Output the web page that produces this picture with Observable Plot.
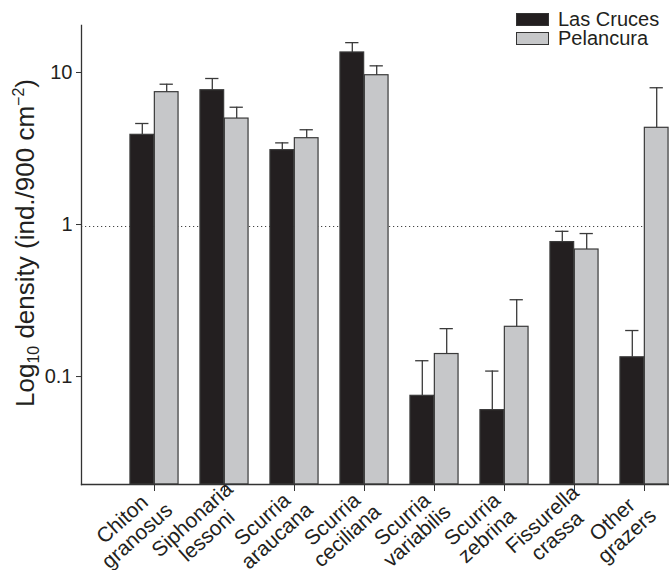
<!DOCTYPE html>
<html>
<head>
<meta charset="utf-8">
<script src="https://cdn.jsdelivr.net/npm/d3@7"></script>
<script src="https://cdn.jsdelivr.net/npm/@observablehq/plot@0.6"></script>
<style>
  html, body { margin: 0; padding: 0; background: #fff; overflow: hidden; }
  #chart { position: relative; width: 669px; height: 570px; font-family: "Liberation Sans", Arial, Helvetica, sans-serif; color: #231f20; }
  #chart svg { overflow: hidden; }
  .legend { position: absolute; left: 516px; top: 9.5px; font-size: 20px; line-height: 19px; }
  .legend .row { display: flex; align-items: flex-start; height: 19px; }
  .legend .sw { box-sizing: border-box; width: 33px; height: 13px; margin-top: 3px; margin-right: 9px; border: 1px solid #333; }
</style>
</head>
<body>
<div id="chart"></div>
<script>
// Grazer densities per species at two sites (mean and mean + SE)
const species = [
  "Chiton\ngranosus",
  "Siphonaria\nlessoni",
  "Scurria\naraucana",
  "Scurria\nceciliana",
  "Scurria\nvariabilis",
  "Scurria\nzebrina",
  "Fissurella\ncrassa",
  "Other\ngrazers"
];
const sites = ["Las Cruces", "Pelancura"];
const siteColors = ["#231f20", "#c6c7c9"];
const lasCruces      = [4.01, 7.88, 3.18, 13.96, 0.077, 0.062, 0.79, 0.138];
const lasCrucesUpper = [4.76, 9.41, 3.55, 16.2, 0.131, 0.112, 0.93, 0.207];
const pelancura      = [7.65, 5.13, 3.81, 9.89, 0.145, 0.219, 0.706, 4.46];
const pelancuraUpper = [8.63, 6.09, 4.33, 11.4, 0.213, 0.330, 0.899, 8.18];
const yTicks = [0.1, 1, 10];
const yDomain = [0.0201, 21];
const yTitle = "Log10 density (ind./900 cm−2)";

const rowsFor = (site, means, uppers) =>
  species.map((s, i) => ({species: s, site, value: means[i], upper: uppers[i]}));
const rowsA = rowsFor(sites[0], lasCruces, lasCrucesUpper);
const rowsB = rowsFor(sites[1], pelancura, pelancuraUpper);

// layout
const W = 669, H = 570;
const mL = 81, mT = 25, mB = 86;
const step = 70.7;          // width of one species group
const barW = 24.4;          // width of one bar
const capW = 14;            // width of an error-bar cap
const half = step / 2;
const ink = "#231f20";
const edge = "#3a3a3a";

const barsFor = (rows, left) => Plot.barY(rows, {
  x: "species", y1: yDomain[0], y2: "value", fill: "site",
  stroke: edge, strokeWidth: 1.2,
  insetLeft: left ? half - barW : half,
  insetRight: left ? half : half - barW
});
const errorsFor = (rows, left) => [
  Plot.ruleX(rows, {x: "species", y1: "value", y2: "upper", stroke: edge, strokeWidth: 1.3, dx: left ? -barW / 2 : barW / 2}),
  Plot.tickY(rows, {x: "species", y: "upper", stroke: edge, strokeWidth: 1.3,
    insetLeft: (step - capW) / 2, insetRight: (step - capW) / 2, dx: left ? -barW / 2 : barW / 2})
];

const chart = Plot.plot({
  width: W, height: H,
  marginTop: mT, marginBottom: mB, marginLeft: mL, marginRight: 0,
  style: {fontFamily: "'Liberation Sans', Arial, Helvetica, sans-serif", color: ink, background: "#fff", overflow: "hidden"},
  x: {domain: species, range: [mL, mL + 9 * step], paddingInner: 0, paddingOuter: 0.5, axis: null},
  y: {type: "log", domain: yDomain, axis: null},
  color: {domain: sites, range: siteColors},
  marks: [
    Plot.ruleY([1], {stroke: "#444", strokeWidth: 1.2, strokeDasharray: "1.2,2.8"}),
    barsFor(rowsA, true),
    barsFor(rowsB, false),
    ...errorsFor(rowsA, true),
    ...errorsFor(rowsB, false),
    Plot.frame({anchor: "left", stroke: "#333", strokeWidth: 1.3}),
    Plot.frame({anchor: "bottom", stroke: "#333", strokeWidth: 1.3}),
    Plot.axisY({ticks: yTicks, tickFormat: d => d3.format("~g")(d), tickSize: 5, tickPadding: 4,
      fontSize: 20, dy: -2, stroke: "#333", fill: ink, label: null}),
    Plot.axisX({tickSize: 7, stroke: "#333", fill: "none", label: null}),
    Plot.text(species, {x: d => d, frameAnchor: "bottom", text: d => d, rotate: -42,
      textAnchor: "middle", lineAnchor: "middle", lineHeight: 1.05,
      dx: -25, dy: 43, fontSize: 21, fill: ink}),
    Plot.text([yTitle], {frameAnchor: "left", text: d => d, rotate: -90,
      textAnchor: "middle", lineAnchor: "middle", dx: -56, dy: -12,
      fontSize: 26, fill: ink})
  ]
});

// y title with subscript and superscript
const titleEl = Array.from(chart.querySelectorAll("text")).find(t => t.textContent === yTitle);
if (titleEl) {
  const NS = "http://www.w3.org/2000/svg";
  while (titleEl.firstChild) titleEl.removeChild(titleEl.firstChild);
  const parts = [
    {t: "Log"},
    {t: "10", size: "16px", dy: 5},
    {t: " density (ind./900 cm", dy: -5},
    {t: "−2", size: "16px", dy: -10},
    {t: ")", dy: 10}
  ];
  for (const p of parts) {
    const ts = document.createElementNS(NS, "tspan");
    ts.textContent = p.t;
    if (p.size) ts.setAttribute("font-size", p.size);
    if (p.dy) ts.setAttribute("dy", p.dy);
    titleEl.appendChild(ts);
  }
}

const root = document.getElementById("chart");
root.appendChild(chart);

// legend
const legend = document.createElement("div");
legend.className = "legend";
sites.forEach((s, i) => {
  const row = document.createElement("div");
  row.className = "row";
  const sw = document.createElement("span");
  sw.className = "sw";
  sw.style.background = siteColors[i];
  const label = document.createElement("span");
  label.textContent = s;
  row.appendChild(sw);
  row.appendChild(label);
  legend.appendChild(row);
});
root.appendChild(legend);
</script>
</body>
</html>
